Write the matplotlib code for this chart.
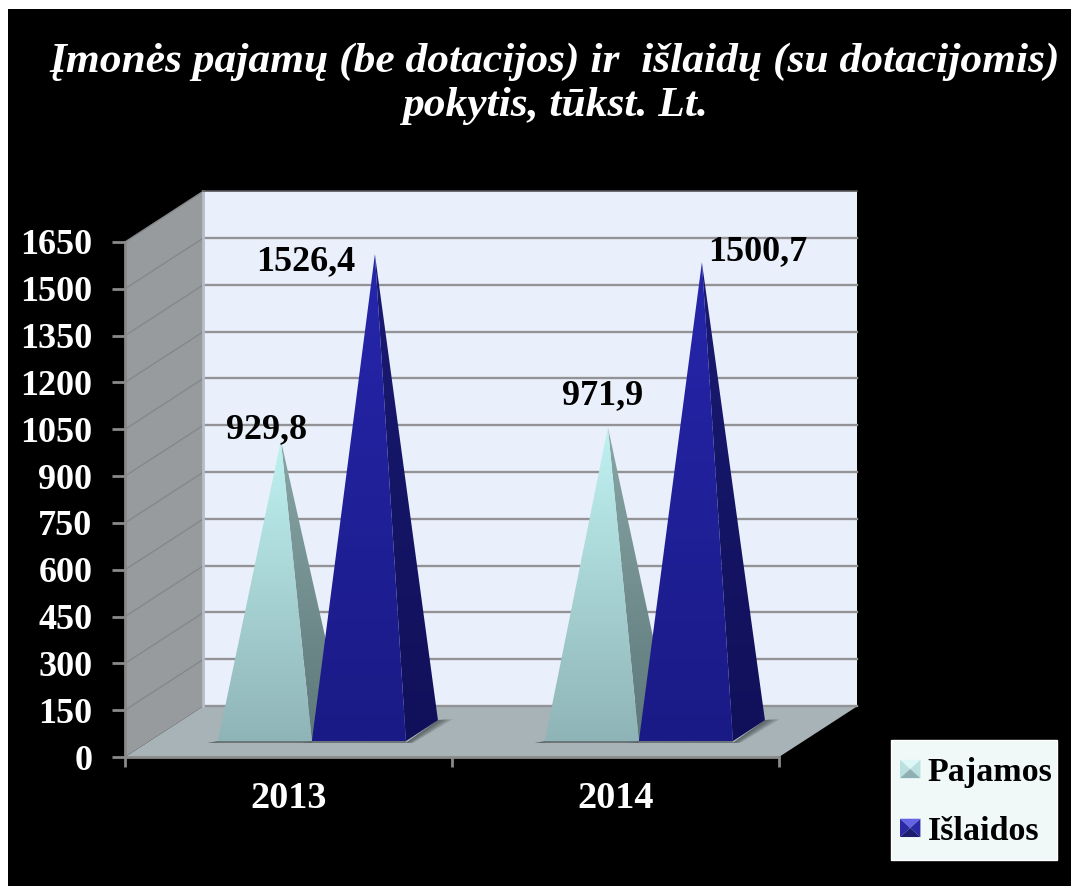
import numpy as np
import matplotlib
matplotlib.use("Agg")
import matplotlib.pyplot as plt
from matplotlib.colors import LinearSegmentedColormap
from matplotlib.legend_handler import HandlerBase
from matplotlib.patches import Patch, Polygon, Rectangle

years = ["2013", "2014"]
pajamos = [929.8, 971.9]
islaidos = [1526.4, 1500.7]
value_labels_pajamos = ["929,8", "971,9"]
value_labels_islaidos = ["1526,4", "1500,7"]
y_ticks = list(range(0, 1651, 150))

W, H = 1071, 886
SERIF = "Liberation Serif"

# oblique depth of the box and of the pyramids, in data units
DEPTH_X, DEPTH_Y = 0.24, 163
BAR_X0, BAR_W = 0.284, 0.2875
BAR_BASE = 51
BAR_DX, BAR_DY = 0.098, 67

fig = plt.figure(figsize=(W / 100, H / 100), dpi=100, facecolor="white")
fig.add_artist(Rectangle((8 / W, 0), 1 - 8 / W, 1 - 9 / H, transform=fig.transFigure,
                         facecolor="black", edgecolor="none", zorder=-5))
fig.add_artist(Rectangle((891 / W, 1 - 860 / H), 166 / W, 120 / H, transform=fig.transFigure,
                         facecolor="#F0F8F8", edgecolor="white", lw=1, zorder=-4))

# axes = front plane of the 3D box
ax = fig.add_axes([125 / W, 1 - 757 / H, 654 / W, 515 / H])
ax.patch.set_visible(False)


def poly(pts, color, zorder=1, alpha=None, **kw):
    p = Polygon(pts, closed=True, facecolor=color, edgecolor="none",
                zorder=zorder, alpha=alpha, clip_on=False, **kw)
    ax.add_patch(p)
    return p


def gradient(pts, top, bottom, zorder):
    # vertical gradient clipped to a polygon
    pts = np.array(pts)
    cmap = LinearSegmentedColormap.from_list("g", [top, bottom])
    im = ax.imshow(np.linspace(0, 1, 256).reshape(-1, 1), cmap=cmap, aspect="auto",
                   origin="upper", zorder=zorder, interpolation="bilinear",
                   extent=(pts[:, 0].min(), pts[:, 0].max(), pts[:, 1].min(), pts[:, 1].max()))
    clip = Polygon(pts, closed=True, transform=ax.transData)
    im.set_clip_path(clip)


def pyramid(x0, value, front, side, zorder):
    fl = (x0, BAR_BASE)
    fr = (x0 + BAR_W, BAR_BASE)
    br = (x0 + BAR_W + BAR_DX, BAR_BASE + BAR_DY)
    apex = (x0 + (BAR_W + BAR_DX) / 2, BAR_BASE + BAR_DY / 2 + value)
    # soft shadow on the floor, fixed below every pyramid
    for k in (0.045, 0.036, 0.027, 0.018, 0.009):
        poly([(fr[0], fr[1] - 6), br, (br[0] + k, br[1] + 3), (fr[0] + k * 0.5, fr[1] - 6)],
             "#3a4244", 1.5, 0.2)
    poly([(x0 - 0.032, BAR_BASE - 6), fl, (fl[0] + 0.02, BAR_BASE + 12), (fr[0], BAR_BASE - 6)], "#5f6769", 1.6)
    poly([(x0, BAR_BASE), fr, (fr[0], BAR_BASE - 7), (x0, BAR_BASE - 7)], "#6c7577", 1.6)
    gradient([fr, br, apex], side[0], side[1], zorder + 0.1)
    gradient([fl, fr, apex], front[0], front[1], zorder + 0.2)
    return apex


class PyramidHandler(HandlerBase):
    # small bevelled square like the Excel pyramid legend key
    def __init__(self, colors):
        super().__init__()
        self.colors = colors

    def create_artists(self, legend, orig, xd, yd, w, h, fs, trans):
        c = (xd * -1 + w / 2, yd * -1 + h / 2)
        ll, lr, ur, ul = (-xd, -yd), (-xd + w, -yd), (-xd + w, -yd + h), (-xd, -yd + h)
        faces = [(ul, ur), (ll, ul), (lr, ur), (ll, lr)]
        return [Polygon([a, b, c], closed=True, facecolor=col, edgecolor="none", transform=trans)
                for (a, b), col in zip(faces, self.colors)]


# box walls
ymax = y_ticks[-1]
poly([(DEPTH_X, DEPTH_Y), (2 + DEPTH_X, DEPTH_Y), (2 + DEPTH_X, ymax + DEPTH_Y), (DEPTH_X, ymax + DEPTH_Y)],
     "#EAF0FB", 0.5)
poly([(0, 0), (DEPTH_X, DEPTH_Y), (DEPTH_X, ymax + DEPTH_Y), (0, ymax)], "#989B9E", 0.6)
poly([(0, 0), (2, 0), (2 + DEPTH_X, DEPTH_Y), (DEPTH_X, DEPTH_Y)], "#A7B3B6", 0.7)

for v in y_ticks:
    if v > 0 and v < ymax:
        ax.plot([DEPTH_X, 2 + DEPTH_X], [v + DEPTH_Y] * 2, color="#929297", lw=1.7, zorder=0.8, clip_on=False)
    if v > 0:
        ax.plot([0, DEPTH_X], [v, v + DEPTH_Y], color="#85888A", lw=1, zorder=0.8, clip_on=False)
ax.plot([DEPTH_X, 2 + DEPTH_X], [DEPTH_Y] * 2, color="#929297", lw=1.7, zorder=0.8, clip_on=False)
ax.plot([DEPTH_X, DEPTH_X], [DEPTH_Y, ymax + DEPTH_Y], color="#B8BCC8", lw=2, zorder=0.8, clip_on=False)
ax.plot([DEPTH_X, 2 + DEPTH_X], [ymax + DEPTH_Y] * 2, color="#555558", lw=1.2, zorder=0.8, clip_on=False)

# pyramids
offsets_p = [(-14, 11), (-5, 32)]
offsets_i = [(-69, -7), (56, 11)]
for i, year in enumerate(years):
    x0 = i + BAR_X0
    a = pyramid(x0, pajamos[i], ("#C0F2F2", "#8FB4B7"), ("#88A6A6", "#5E787A"), 2)
    ax.annotate(value_labels_pajamos[i], a, xytext=offsets_p[i], textcoords="offset pixels",
                ha="center", va="center", family=SERIF, weight="bold", fontsize=26,
                color="black", zorder=6, annotation_clip=False)
    a = pyramid(x0 + BAR_W, islaidos[i], ("#2626AC", "#1A1A86"), ("#1A1A72", "#10105A"), 4)
    ax.annotate(value_labels_islaidos[i], a, xytext=offsets_i[i], textcoords="offset pixels",
                ha="center", va="center", family=SERIF, weight="bold", fontsize=26,
                color="black", zorder=6, annotation_clip=False)

ax.set_xlim(0, 2)
ax.set_ylim(0, ymax)

# axes
for s in ("top", "right"):
    ax.spines[s].set_visible(False)
for s in ("left", "bottom"):
    ax.spines[s].set_color("#8A8A8A")
    ax.spines[s].set_linewidth(2)
ax.set_yticks(y_ticks)
ax.set_xticks([0, 1, 2], ["", "", ""])
ax.set_xticks([0.5, 1.5], years, minor=True)
ax.tick_params(axis="y", length=9.5, width=2, color="#8A8A8A", pad=14,
               labelcolor="white", labelsize=26)
ax.tick_params(axis="x", which="major", length=7.5, width=2, color="#8A8A8A")
ax.tick_params(axis="x", which="minor", length=0, pad=17, labelcolor="white", labelsize=27.5)
for t in ax.get_yticklabels() + ax.get_xticklabels(minor=True):
    t.set_family(SERIF)
    t.set_weight("bold")

fig.text(555 / W, 1 - 84 / H, "Įmonės pajamų (be dotacijos) ir  išlaidų (su dotacijomis)\npokytis, tūkst. Lt.",
         ha="center", va="center", color="white", family=SERIF, style="italic", weight="bold",
         fontsize=31.3, linespacing=1.2)

# legend
h1, h2 = Patch(), Patch()
leg = ax.legend([h1, h2], ["Pajamos", "Išlaidos"],
                handler_map={
                    h1: PyramidHandler(["#DDF6F6", "#BCDFDF", "#BCDFDF", "#8FB0B2"]),
                    h2: PyramidHandler(["#6464E4", "#2A2AA4", "#2A2AA4", "#1C1C70"]),
                },
                loc="lower left", bbox_to_anchor=(900 / W, 1 - 847 / H), bbox_transform=fig.transFigure,
                prop={"family": SERIF, "weight": "bold", "size": 24.5},
                frameon=False, borderaxespad=0, borderpad=0, labelspacing=0.82, handlelength=0.6,
                handleheight=0.45, handletextpad=0.22, labelcolor="black")

fig.savefig("out.png", dpi=100, facecolor=fig.get_facecolor())
